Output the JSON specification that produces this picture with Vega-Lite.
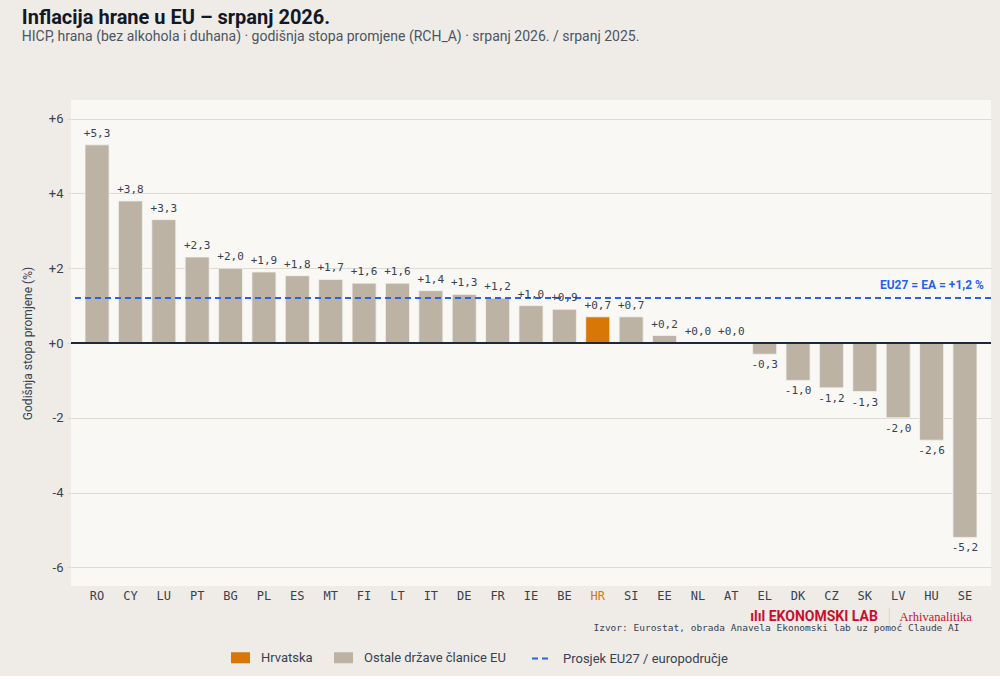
{
  "$schema": "https://vega.github.io/schema/vega-lite/v6.json",
  "width": 920,
  "height": 486,
  "padding": {"left": 21, "top": 8, "right": 10, "bottom": 10},
  "background": "#efece7",
  "title": {
    "text": "Inflacija hrane u EU – srpanj 2026.",
    "subtitle": "HICP, hrana (bez alkohola i duhana) · godišnja stopa promjene (RCH_A) · srpanj 2026. / srpanj 2025.",
    "anchor": "start",
    "frame": "bounds",
    "font": "Roboto",
    "fontSize": 20,
    "fontWeight": "bold",
    "color": "#111827",
    "subtitleFont": "Roboto",
    "subtitleFontSize": 14,
    "subtitleColor": "#4b5563",
    "subtitlePadding": 2,
    "offset": 56
  },
  "config": {
    "locale": {
      "number": {"decimal": ",", "thousands": ".", "grouping": [3], "currency": ["", " €"], "minus": "-"}
    },
    "view": {"fill": "#f9f8f5", "stroke": null},
    "axis": {"labelFont": "Roboto", "titleFont": "Roboto"},
    "legend": {"labelFont": "Roboto", "labelFontSize": 13, "labelColor": "#374151", "labelLimit": 300, "labelOffset": 11}
  },
  "data": {
    "values": [
      {"zemlja": "RO", "stopa": 5.3, "grupa": "Ostale države članice EU"},
      {"zemlja": "CY", "stopa": 3.8, "grupa": "Ostale države članice EU"},
      {"zemlja": "LU", "stopa": 3.3, "grupa": "Ostale države članice EU"},
      {"zemlja": "PT", "stopa": 2.3, "grupa": "Ostale države članice EU"},
      {"zemlja": "BG", "stopa": 2.0, "grupa": "Ostale države članice EU"},
      {"zemlja": "PL", "stopa": 1.9, "grupa": "Ostale države članice EU"},
      {"zemlja": "ES", "stopa": 1.8, "grupa": "Ostale države članice EU"},
      {"zemlja": "MT", "stopa": 1.7, "grupa": "Ostale države članice EU"},
      {"zemlja": "FI", "stopa": 1.6, "grupa": "Ostale države članice EU"},
      {"zemlja": "LT", "stopa": 1.6, "grupa": "Ostale države članice EU"},
      {"zemlja": "IT", "stopa": 1.4, "grupa": "Ostale države članice EU"},
      {"zemlja": "DE", "stopa": 1.3, "grupa": "Ostale države članice EU"},
      {"zemlja": "FR", "stopa": 1.2, "grupa": "Ostale države članice EU"},
      {"zemlja": "IE", "stopa": 1.0, "grupa": "Ostale države članice EU"},
      {"zemlja": "BE", "stopa": 0.9, "grupa": "Ostale države članice EU"},
      {"zemlja": "HR", "stopa": 0.7, "grupa": "Hrvatska"},
      {"zemlja": "SI", "stopa": 0.7, "grupa": "Ostale države članice EU"},
      {"zemlja": "EE", "stopa": 0.2, "grupa": "Ostale države članice EU"},
      {"zemlja": "NL", "stopa": 0.0, "grupa": "Ostale države članice EU"},
      {"zemlja": "AT", "stopa": 0.0, "grupa": "Ostale države članice EU"},
      {"zemlja": "EL", "stopa": -0.3, "grupa": "Ostale države članice EU"},
      {"zemlja": "DK", "stopa": -1.0, "grupa": "Ostale države članice EU"},
      {"zemlja": "CZ", "stopa": -1.2, "grupa": "Ostale države članice EU"},
      {"zemlja": "SK", "stopa": -1.3, "grupa": "Ostale države članice EU"},
      {"zemlja": "LV", "stopa": -2.0, "grupa": "Ostale države članice EU"},
      {"zemlja": "HU", "stopa": -2.6, "grupa": "Ostale države članice EU"},
      {"zemlja": "SE", "stopa": -5.2, "grupa": "Ostale države članice EU"}
    ]
  },
  "layer": [
    {
      "mark": {"type": "bar", "stroke": "#f3f1ec", "strokeWidth": 0.8},
      "encoding": {
        "x": {
          "field": "zemlja",
          "type": "nominal",
          "sort": null,
          "scale": {"paddingInner": 0.28, "paddingOuter": 0.42},
          "axis": {
            "title": "Izvor: Eurostat, obrada Anavela Ekonomski lab uz pomoć Claude AI",
            "titleFont": "DejaVu Sans Mono",
            "titleFontSize": 9.5,
            "titleFontWeight": "normal",
            "titleColor": "#374151",
            "titleAnchor": "end",
            "titleAlign": "right",
            "titleX": 888,
            "titlePadding": 21,
            "labelAngle": 0,
            "labelFont": "DejaVu Sans Mono",
            "labelFontSize": 12,
            "labelPadding": 4,
            "labelColor": {"condition": {"test": "datum.value === 'HR'", "value": "#d97706"}, "value": "#374151"},
            "ticks": false,
            "domain": false
          }
        },
        "y": {
          "field": "stopa",
          "type": "quantitative",
          "scale": {"domain": [-6.5, 6.5], "nice": false},
          "axis": {
            "title": "Godišnja stopa promjene (%)",
            "titleFontSize": 12,
            "titleFontWeight": "normal",
            "titleColor": "#374151",
            "titlePadding": 13.5,
            "values": [-6, -4, -2, 0, 2, 4, 6],
            "format": "+d",
            "labelFontSize": 13,
            "labelColor": "#374151",
            "labelPadding": 4,
            "tickSize": 4,
            "tickColor": "#dedbd5",
            "gridColor": "#dedbd5",
            "domain": false
          }
        },
        "color": {
          "field": "grupa",
          "type": "nominal",
          "scale": {
            "domain": ["Hrvatska", "Ostale države članice EU"],
            "range": ["#d97706", "#bdb3a5"]
          },
          "legend": {
            "title": null,
            "orient": "none",
            "legendX": 160,
            "legendY": 548,
            "direction": "horizontal",
            "columnPadding": 21,
            "symbolType": "M-1,-0.58H1V0.58H-1Z",
            "symbolSize": 361,
            "symbolStrokeWidth": 0,
            "symbolOpacity": 1
          }
        }
      }
    },
    {
      "mark": {"type": "rule", "color": "#1e293b", "strokeWidth": 1.3},
      "encoding": {"y": {"datum": 0}}
    },
    {
      "mark": {"type": "rule", "strokeWidth": 1.6, "color": "#2563eb"},
      "encoding": {
        "y": {"datum": 1.2},
        "strokeDash": {
          "datum": "Prosjek EU27 / europodručje",
          "type": "nominal",
          "scale": {"domain": ["Prosjek EU27 / europodručje"], "range": [[6, 4]]},
          "legend": {
            "title": null,
            "orient": "none",
            "legendX": 460,
            "legendY": 548,
            "symbolType": "stroke",
            "symbolSize": 361,
            "symbolStrokeColor": "#2563eb",
            "symbolStrokeWidth": 2
          }
        }
      }
    },
    {
      "transform": [{"filter": "datum.stopa >= 0"}],
      "mark": {"type": "text", "baseline": "bottom", "dy": -6, "font": "DejaVu Sans Mono", "fontSize": 11, "color": "#374151"},
      "encoding": {
        "x": {"field": "zemlja", "type": "nominal", "sort": null},
        "y": {"field": "stopa", "type": "quantitative"},
        "text": {"field": "stopa", "type": "quantitative", "format": "+.1f"}
      }
    },
    {
      "transform": [{"filter": "datum.stopa < 0"}],
      "mark": {"type": "text", "baseline": "top", "dy": 5, "font": "DejaVu Sans Mono", "fontSize": 11, "color": "#374151"},
      "encoding": {
        "x": {"field": "zemlja", "type": "nominal", "sort": null},
        "y": {"field": "stopa", "type": "quantitative"},
        "text": {"field": "stopa", "type": "quantitative", "format": "+.1f"}
      }
    },
    {
      "data": {"values": [{"oznaka": "EU27 = EA = +1,2 %", "zemlja": "SE", "stopa": 1.2}]},
      "mark": {"type": "text", "align": "right", "baseline": "bottom", "dx": 19, "dy": -6, "font": "Roboto", "fontSize": 12, "fontWeight": "bold", "color": "#2563eb"},
      "encoding": {
        "x": {"field": "zemlja", "type": "nominal", "sort": null},
        "y": {"field": "stopa", "type": "quantitative"},
        "text": {"field": "oznaka"}
      }
    },
    {
      "data": {"values": [{"oznaka": "ılıl EKONOMSKI LAB", "zemlja": "DK", "stopa": -7.33}]},
      "mark": {"type": "text", "dx": 16, "font": "Roboto", "fontSize": 14, "fontWeight": "bold", "color": "#c8102e", "baseline": "middle"},
      "encoding": {
        "x": {"field": "zemlja", "type": "nominal", "sort": null},
        "y": {"field": "stopa", "type": "quantitative"},
        "text": {"field": "oznaka"}
      }
    },
    {
      "data": {"values": [{"oznaka": "Arhivanalitika", "zemlja": "HU", "stopa": -7.33}]},
      "mark": {"type": "text", "dx": 4, "font": "Liberation Serif", "fontSize": 12.5, "color": "#c8102e", "baseline": "middle"},
      "encoding": {
        "x": {"field": "zemlja", "type": "nominal", "sort": null},
        "y": {"field": "stopa", "type": "quantitative"},
        "text": {"field": "oznaka"}
      }
    },
    {
      "data": {"values": [{"oznaka": "|", "zemlja": "LV", "stopa": -7.33}]},
      "mark": {"type": "text", "dx": -9, "font": "Roboto", "fontSize": 20, "fontWeight": 100, "color": "#e8b4bc", "baseline": "middle"},
      "encoding": {
        "x": {"field": "zemlja", "type": "nominal", "sort": null},
        "y": {"field": "stopa", "type": "quantitative"},
        "text": {"field": "oznaka"}
      }
    }
  ]
}
